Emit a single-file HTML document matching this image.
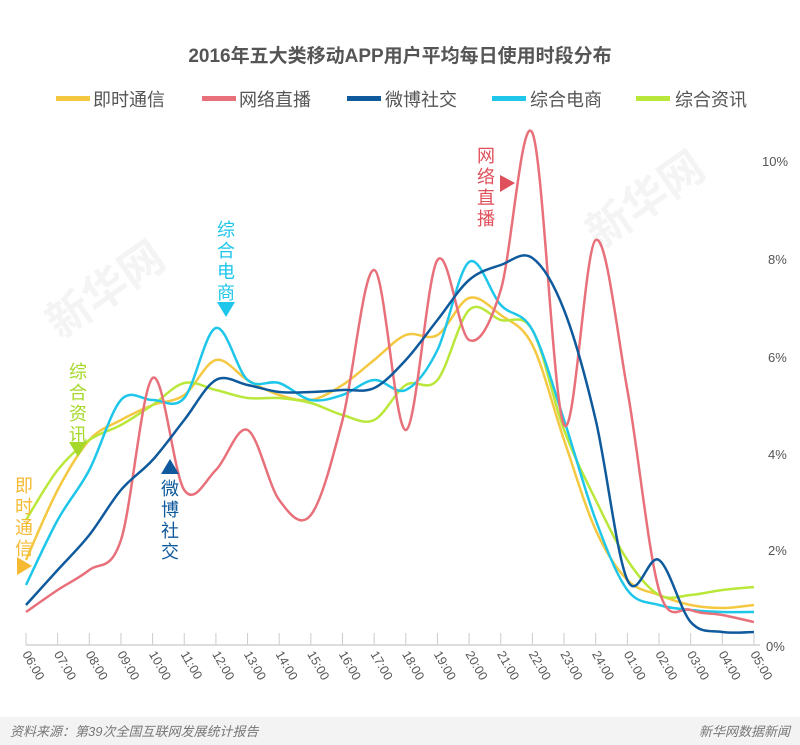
<!DOCTYPE html>
<html><head><meta charset="utf-8"><style>
body{margin:0;background:#fff;width:800px;height:745px;overflow:hidden;font-family:"Liberation Sans","Noto Sans CJK SC",sans-serif;}
</style></head><body>
<svg id="s" width="800" height="745" xmlns="http://www.w3.org/2000/svg" style="position:absolute;left:0;top:0">
<text x="400" y="62" text-anchor="middle" font-size="19" font-weight="bold" fill="#555" font-family="Liberation Sans,Noto Sans CJK SC,sans-serif">2016年五大类移动APP用户平均每日使用时段分布</text>
<g font-size="18" fill="#555" font-family="Liberation Sans,Noto Sans CJK SC,sans-serif">
<rect x="56" y="96" width="34" height="5" fill="#f5c842"/><text x="93" y="106">即时通信</text>
<rect x="202" y="96" width="34" height="5" fill="#e8707a"/><text x="239" y="106">网络直播</text>
<rect x="347" y="96" width="34" height="5" fill="#0f5a9c"/><text x="385" y="106">微博社交</text>
<rect x="492" y="96" width="34" height="5" fill="#1ec6ea"/><text x="530" y="106">综合电商</text>
<rect x="636" y="96" width="34" height="5" fill="#b9e83a"/><text x="675" y="106">综合资讯</text>
</g>
<g fill="#f4f4f4" font-size="44" font-weight="bold" font-family="Noto Sans CJK SC,sans-serif">
<text transform="translate(60,340) rotate(-35)">新华网</text>
<text transform="translate(600,250) rotate(-35)">新华网</text>
</g>
<g id="ax"></g>
<g id="lines" fill="none" stroke-width="2.5"></g>
<g font-size="13" fill="#555">
<text x="762" y="166">10%</text><text x="768" y="264">8%</text><text x="768" y="362">6%</text><text x="768" y="459">4%</text><text x="768" y="555">2%</text><text x="766" y="651">0%</text>
</g>
<g font-size="18" font-family="Noto Sans CJK SC,sans-serif" text-anchor="middle">
<g fill="#f5b932"><text x="24" y="492">即</text><text x="24" y="513">时</text><text x="24" y="534">通</text><text x="24" y="555">信</text><polygon points="17,557 32,566 17,575"/></g>
<g fill="#a5d82a"><text x="78" y="378">综</text><text x="78" y="399">合</text><text x="78" y="420">资</text><text x="78" y="441">讯</text><polygon points="69,442 87,442 78,457"/></g>
<g fill="#1ec6ea"><text x="226" y="236">综</text><text x="226" y="257">合</text><text x="226" y="278">电</text><text x="226" y="299">商</text><polygon points="217,302 235,302 226,317"/></g>
<g fill="#0f5a9c"><polygon points="161,474 179,474 170,459"/><text x="170" y="495">微</text><text x="170" y="516">博</text><text x="170" y="537">社</text><text x="170" y="558">交</text></g>
<g fill="#e0505c"><text x="486" y="162">网</text><text x="486" y="183">络</text><text x="486" y="204">直</text><text x="486" y="225">播</text><polygon points="500,175 515,183 500,192"/></g>
</g>
<rect x="0" y="717" width="800" height="28" fill="#f3f3f3"/>
<text x="10" y="736" font-size="13" fill="#777" font-style="italic" font-family="Liberation Sans,Noto Sans CJK SC,sans-serif">资料来源：第39次全国互联网发展统计报告</text>
<text x="790" y="736" font-size="13" fill="#777" font-style="italic" text-anchor="end" font-family="Liberation Sans,Noto Sans CJK SC,sans-serif">新华网数据新闻</text>
</svg>
<script>
function X(i){return 26+31.65*i;}
var labels=["06","07","08","09","10","11","12","13","14","15","16","17","18","19","20","21","22","23","24","01","02","03","04","05"];
var ax=document.getElementById("ax"),h="";
h+='<line x1="26" y1="645" x2="760" y2="645" stroke="#bbb" stroke-width="1"/>';
for(var i=0;i<24;i++){var x=X(i);h+='<line x1="'+x+'" y1="633" x2="'+x+'" y2="645" stroke="#ccc"/>';
h+='<text transform="translate('+(x-4)+',654) rotate(60)" font-size="12.5" fill="#555" font-family="Liberation Sans,sans-serif">'+labels[i]+':00</text>';}
ax.innerHTML=h;
var S={
"#f5c842":[560,490,440,420,405,395,360,380,395,400,385,360,335,335,298,315,345,440,530,580,595,605,608,605],
"#b9e83a":[520,470,440,425,405,383,390,398,398,403,415,420,385,380,310,320,330,430,500,560,595,595,590,587],
"#1ec6ea":[585,520,470,400,400,398,328,380,383,400,395,380,390,350,262,305,330,420,520,590,605,610,612,612],
"#e8707a":[612,590,570,540,378,490,470,430,500,515,420,270,430,260,340,290,133,425,240,390,590,610,615,622],
"#0f5a9c":[605,570,535,490,460,420,380,385,392,392,390,388,360,320,280,265,258,310,420,580,560,622,632,632]};
var order=["#f5c842","#b9e83a","#1ec6ea","#e8707a","#0f5a9c"],g=document.getElementById("lines"),o="";
order.forEach(function(c){var p=S[c].map(function(y,i){return[X(i),y]});var d="M"+p[0];
for(var i=0;i<p.length-1;i++){var a=p[Math.max(0,i-1)],b=p[i],e=p[i+1],f=p[Math.min(p.length-1,i+2)];
d+=" C"+(b[0]+(e[0]-a[0])/6)+","+(b[1]+(e[1]-a[1])/6)+" "+(e[0]-(f[0]-b[0])/6)+","+(e[1]-(f[1]-b[1])/6)+" "+e;}
o+='<path d="'+d+'" stroke="'+c+'"/>';});
g.innerHTML=o;
</script>
</body></html>
